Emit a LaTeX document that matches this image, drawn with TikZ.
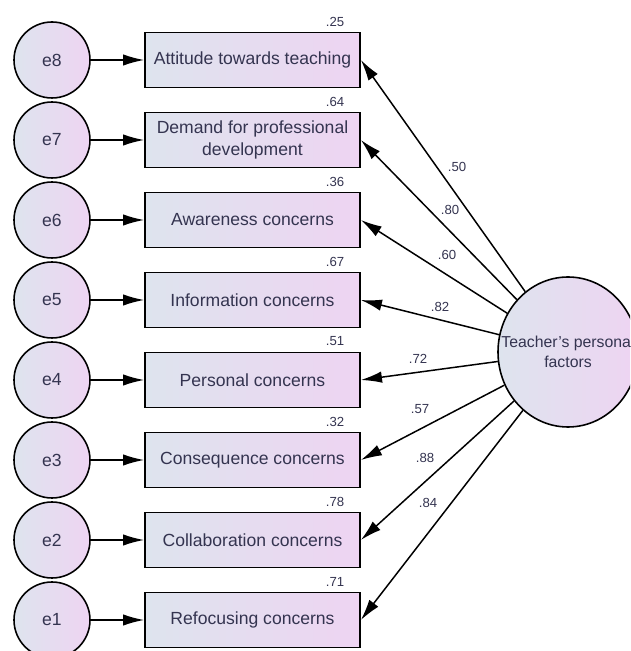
\documentclass[tikz,border=0pt]{standalone}
\usepackage{fontspec}
\setmainfont{Liberation Sans}
\usetikzlibrary{arrows.meta,shapes.geometric,positioning}
\definecolor{txtgray}{RGB}{52,52,80}
\definecolor{fillblue}{RGB}{222,228,238}
\definecolor{fillpink}{RGB}{238,212,242}
\tikzset{
  errcirc/.style={circle,draw,line width=0.9pt,minimum size=1.52cm,inner sep=0pt,left color=fillblue,right color=fillpink,text=txtgray,font=\fontsize{10}{12}\selectfont},
  itembox/.style={rectangle,draw,line width=1pt,minimum width=4.3cm,minimum height=1.1cm,inner sep=1pt,align=center,left color=fillblue,right color=fillpink,text=txtgray,font=\fontsize{10}{12.5}\selectfont},
  factor/.style={ellipse,draw,line width=0.9pt,minimum width=2.8cm,minimum height=3cm,inner sep=0pt,align=center,left color=fillblue,right color=fillpink,text=txtgray,font=\fontsize{9}{11}\selectfont},
  coef/.style={inner sep=0pt,text=txtgray,font=\fontsize{7.5}{9}\selectfont},
  arr/.style={-{Latex[length=12pt,width=6.5pt]},line width=0.85pt}
}
\begin{document}
\begin{tikzpicture}
  \useasboundingbox (0,0) rectangle (12.6,13.02); \clip (0,0) rectangle (12.6,13.02);
  % error terms
  \node (e8) at (1.04,11.82) [errcirc] {e8}; \node (e7) at (1.04,10.22) [errcirc] {e7};
  \node (e6) at (1.04,8.62) [errcirc] {e6}; \node (e5) at (1.04,7.02) [errcirc] {e5};
  \node (e4) at (1.04,5.42) [errcirc] {e4}; \node (e3) at (1.04,3.82) [errcirc] {e3};
  \node (e2) at (1.04,2.22) [errcirc] {e2}; \node (e1) at (1.04,0.62) [errcirc] {e1};
  % observed items
  \node (b8) at (5.05,11.82) [itembox] {Attitude towards teaching};
  \node (b7) at (5.05,10.22) [itembox] {Demand for professional\\development};
  \node (b6) at (5.05,8.62) [itembox] {Awareness concerns};
  \node (b5) at (5.05,7.02) [itembox] {Information concerns};
  \node (b4) at (5.05,5.42) [itembox] {Personal concerns};
  \node (b3) at (5.05,3.82) [itembox] {Consequence concerns};
  \node (b2) at (5.05,2.22) [itembox] {Collaboration concerns};
  \node (b1) at (5.05,0.62) [itembox] {Refocusing concerns};
  % latent factor
  \node (tp) at (11.36,5.98) [factor] {\makebox[0pt]{Teacher's personal}\\factors};
  % squared multiple correlations
  \node (r8) at (6.7,12.59) [coef] {.25}; \node (r7) at (6.7,10.99) [coef] {.64};
  \node (r6) at (6.7,9.39) [coef] {.36}; \node (r5) at (6.7,7.79) [coef] {.67};
  \node (r4) at (6.7,6.19) [coef] {.51}; \node (r3) at (6.7,4.59) [coef] {.32};
  \node (r2) at (6.7,2.99) [coef] {.78}; \node (r1) at (6.7,1.39) [coef] {.71};
  % loadings
  \node (l8) at (9.14,9.68) [coef] {.50}; \node (l7) at (9.0,8.82) [coef] {.80};
  \node (l6) at (8.94,7.92) [coef] {.60}; \node (l5) at (8.8,6.88) [coef] {.82};
  \node (l4) at (8.36,5.84) [coef] {.72}; \node (l3) at (8.4,4.84) [coef] {.57};
  \node (l2) at (8.5,3.86) [coef] {.88}; \node (l1) at (8.56,2.96) [coef] {.84};
  % arrows
  \draw[arr] (e8)--(b8); \draw[arr] (e7)--(b7); \draw[arr] (e6)--(b6); \draw[arr] (e5)--(b5);
  \draw[arr] (e4)--(b4); \draw[arr] (e3)--(b3); \draw[arr] (e2)--(b2); \draw[arr] (e1)--(b1);
  \draw[arr] (tp)--(b8.east); \draw[arr] (tp)--(b7.east); \draw[arr] (tp)--(b6.east); \draw[arr] (tp)--(b5.east);
  \draw[arr] (tp)--(b4.east); \draw[arr] (tp)--(b3.east); \draw[arr] (tp)--(b2.east); \draw[arr] (tp)--(b1.east);
\end{tikzpicture}
\end{document}
